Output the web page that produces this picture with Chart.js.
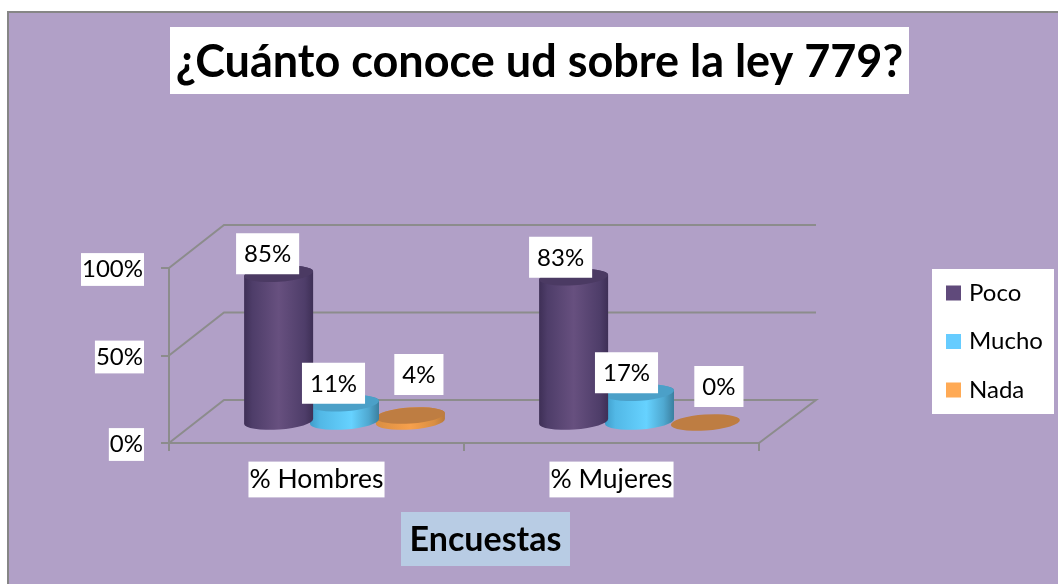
<!DOCTYPE html>
<html><head><meta charset="utf-8">
<style>html,body{margin:0;padding:0;background:#fff}canvas{display:block}</style>
<script src="https://cdn.jsdelivr.net/npm/chart.js@4/dist/chart.umd.min.js"></script>
</head><body><canvas id="c" width="1058" height="584"></canvas>
<script>
const chartTitle = '¿Cuánto conoce ud sobre la ley 779?';
const axisTitle = 'Encuestas';
const categories = ['% Hombres', '% Mujeres'];
const seriesNames = ['Poco', 'Mucho', 'Nada'];
const poco = [85, 83];
const mucho = [11, 17];
const nada = [4, 0];
const yTicks = [0, 50, 100];

const FONT = 'Lato';
const legendColors = ['#604A7B', '#66CCFF', '#FFAA55'];
const sideStops = [
  [[0,'#3E2F56'],[.12,'#4E3D69'],[.5,'#67507F'],[.88,'#4E3D69'],[1,'#3E2F56']],
  [[0,'#3F9CC9'],[.15,'#52B8E6'],[.6,'#66D2FF'],[.85,'#4FA8D0'],[1,'#3B7F9F']],
  [[0,'#D98E42'],[.5,'#F7A04C'],[.85,'#D98E42'],[1,'#B97A3C']]
];
const topColors = ['#4B3A63', '#4BA0C8', '#BE7D42'];
const labelShift = [
  [[-11,-20],[-13,-20]],
  [[-11,-20],[-13,-20]],
  [[8.5,-41],[13.5,-36]]
];
const DEPTH_X = 55, DEPTH_Y = 43, BAR_DX = 28, BAR_DY = 20.5, RY = 8, ROT = -4 * Math.PI / 180;
const GRID = '#8C8C8C';

function drawCylinder(ctx, el, di) {
  const cx = el.x + BAR_DX, rx = el.width * 1.05 / 2;
  const ty = el.y - BAR_DY, by = el.base - BAR_DY;
  if (by - ty > 0.5) {
    const g = ctx.createLinearGradient(cx - rx, 0, cx + rx, 0);
    sideStops[di].forEach(s => g.addColorStop(s[0], s[1]));
    ctx.beginPath();
    ctx.ellipse(cx, by, rx, RY, ROT, 0, Math.PI);
    ctx.ellipse(cx, ty, rx, RY, ROT, Math.PI, Math.PI * 2);
    ctx.closePath();
    ctx.fillStyle = g;
    ctx.fill();
  }
  ctx.beginPath();
  ctx.ellipse(cx, ty, rx, RY, ROT, 0, Math.PI * 2);
  ctx.fillStyle = topColors[di];
  ctx.fill();
}

const scene = {
  id: 'scene',
  beforeLayout(chart) {
    const l = chart.legend;
    if (!l._wrapped) {
      l._wrapped = true;
      const f = l.fit;
      l.fit = function () { f.call(this); this.width = 299; };
    }
  },
  afterLayout(chart) {
    const l = chart.legend;
    l.left = 925.5; l.right = 1054; l.top = 256.5; l.bottom = 584;
    const t = chart.titleBlock;
    t.left = 170; t.right = 909;
    const s = chart.boxes.find(b => b.options && b.options.text === axisTitle);
    if (s) { s.left = 401; s.right = 570; }
  },
  beforeDraw(chart) {
    const c = chart.ctx;
    c.save();
    c.fillStyle = '#fff'; c.fillRect(0, 0, 1058, 584);
    c.fillStyle = '#B1A0C7'; c.fillRect(7, 11, 1051, 573);
    c.strokeStyle = '#868686'; c.lineWidth = 2;
    c.beginPath(); c.moveTo(8, 584); c.lineTo(8, 12); c.lineTo(1058, 12); c.stroke();
    c.fillStyle = '#fff';
    c.fillRect(170, 27, 739, 67);
    c.fillRect(932, 269, 122, 145);
    c.fillStyle = '#B8CCE4';
    c.fillRect(401, 512, 169, 54);
    c.restore();
  },
  beforeDatasetsDraw(chart) {
    const c = chart.ctx, y = chart.scales.y, x = chart.scales.x;
    c.save();
    c.strokeStyle = GRID; c.lineWidth = 2;
    yTicks.forEach(v => {
      const py = y.getPixelForValue(v);
      c.beginPath();
      c.moveTo(x.left, py);
      c.lineTo(x.left + DEPTH_X, py - DEPTH_Y);
      c.lineTo(x.right + DEPTH_X + 2, py - DEPTH_Y);
      if (v === 0) c.lineTo(x.right, py);
      c.stroke();
    });
    c.restore();
  },
  beforeDatasetDraw(chart, args) {
    const c = chart.ctx;
    c.save();
    args.meta.data.forEach(el => drawCylinder(c, el, args.index));
    c.restore();
    return false;
  },
  afterDatasetsDraw(chart) {
    const c = chart.ctx;
    c.save();
    c.font = '24px ' + FONT;
    c.textAlign = 'center'; c.textBaseline = 'middle';
    chart.data.datasets.forEach((ds, di) => {
      chart.getDatasetMeta(di).data.forEach((el, i) => {
        const t = ds.data[i] + '%';
        const px = el.x + BAR_DX + labelShift[di][i][0];
        const py = el.y - BAR_DY + labelShift[di][i][1];
        const w = c.measureText(t).width + 16;
        c.fillStyle = '#fff';
        c.fillRect(px - w / 2, py - 20.5, w, 41);
        c.fillStyle = '#000';
        c.fillText(t, px, py + 1);
      });
    });
    c.restore();
  }
};

const datasets = seriesNames.map((n, i) => ({
  label: n,
  data: [poco, mucho, nada][i],
  backgroundColor: legendColors[i],
  borderColor: legendColors[i],
  borderWidth: 8
}));

new Chart(document.getElementById('c'), {
  type: 'bar',
  data: { labels: categories, datasets },
  plugins: [scene],
  options: {
    responsive: false,
    animation: false,
    categoryPercentage: 0.67,
    barPercentage: 1,
    layout: { padding: 0, autoPadding: false },
    plugins: {
      tooltip: { enabled: false },
      title: {
        display: true, text: chartTitle, color: '#000',
        font: { family: FONT, size: 45, weight: 'bold', lineHeight: 1.2 },
        padding: { top: 35, bottom: 179 }
      },
      subtitle: {
        display: true, position: 'bottom', text: axisTitle, color: '#000',
        font: { family: FONT, size: 34, weight: 'bold', lineHeight: 1.2 },
        padding: { top: 20, bottom: 23.6 }
      },
      legend: {
        position: 'right', align: 'start',
        labels: {
          boxWidth: 7, boxHeight: 7, padding: 24.5, color: '#000',
          font: { family: FONT, size: 24 }
        }
      }
    },
    scales: {
      x: {
        afterFit: s => { s.height = 141 - 84.4; },
        border: { display: true, color: GRID, width: 2 },
        grid: { display: true, drawOnChartArea: false, drawTicks: true, tickLength: 8, color: GRID, lineWidth: 2, offset: true },
        ticks: {
          color: '#000', font: { family: FONT, size: 26.5 }, padding: 12.6, maxRotation: 0,
          showLabelBackdrop: true, backdropColor: '#fff', backdropPadding: { top: 2, bottom: 2, left: 1, right: 1 }
        }
      },
      y: {
        min: 0, max: 100,
        afterFit: s => { s.width = 169; },
        afterBuildTicks: s => { s.ticks = yTicks.map(v => ({ value: v })); },
        border: { display: true, color: GRID, width: 2 },
        grid: { display: true, drawOnChartArea: false, drawTicks: true, tickLength: 8, color: GRID, lineWidth: 2 },
        ticks: {
          color: '#000', font: { family: FONT, size: 24 }, padding: 18, labelOffset: 1.5,
          callback: v => v + '%',
          showLabelBackdrop: true, backdropColor: '#fff', backdropPadding: { top: 2, bottom: 2, left: 1, right: 1 }
        }
      }
    }
  }
});
</script></body></html>
